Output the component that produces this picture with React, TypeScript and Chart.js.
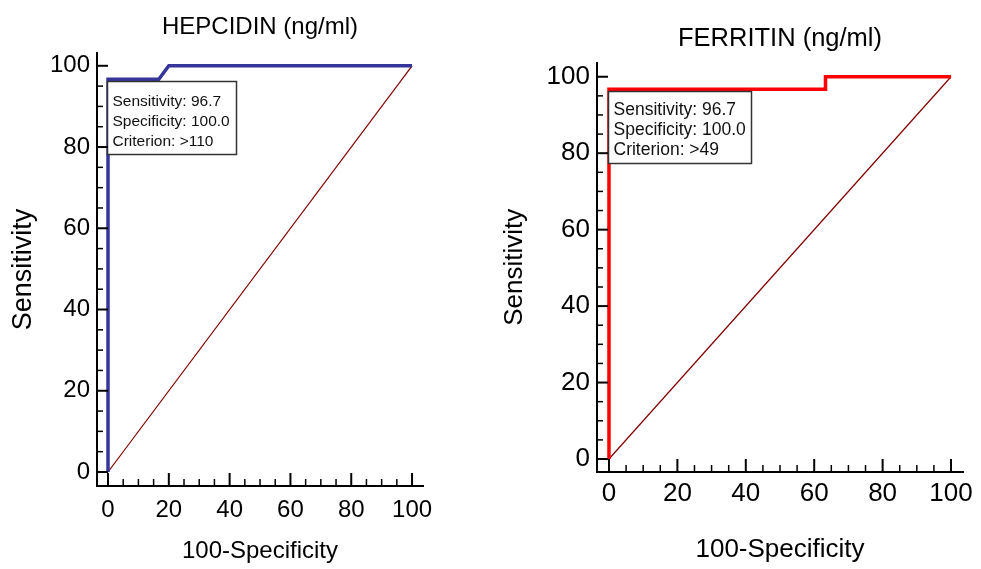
import React, { useEffect, useRef } from 'react';
import { Chart, registerables } from 'chart.js';

Chart.register(...registerables);

// ---------------- data ----------------
const hepcidinFpr = [0, 0, 16.7, 20, 100];
const hepcidinSens = [0, 96.7, 96.7, 100, 100];
const ferritinFpr = [0, 0, 63.3, 63.3, 100];
const ferritinSens = [0, 96.7, 96.7, 100, 100];
const diagonalX = [0, 100];
const diagonalY = [0, 100];

const majorTicks = [0, 20, 40, 60, 80, 100];
const minorTicks = [5, 10, 15, 25, 30, 35, 45, 50, 55, 65, 70, 75, 85, 90, 95];

const hepcidinOpSensitivity = 96.7;
const hepcidinOpSpecificity = 100.0;
const hepcidinCriterion = '>110';
const ferritinOpSensitivity = 96.7;
const ferritinOpSpecificity = 100.0;
const ferritinCriterion = '>49';

const xAxisLabel = '100-Specificity';
const yAxisLabel = 'Sensitivity';

const FONT = "'Liberation Sans', Arial, sans-serif";
const H = 569;

type Layout = {
  width: number; left: number; right: number; top: number; bottom: number;
  xMin: number; xMax: number; yMin: number; yMax: number;
  titleSize: number; titlePadTop: number; titlePadBottom: number;
  tickSize: number; xTickPad: number; yTickPad: number;
  xTitleSize: number; yTitleSize: number; yTitlePad: number; xTitlePad: number;
  boxSize: number; boxFirstBase: number; boxExtraH: number; boxPadR: number;
};

const leftLayout: Layout = {
  width: 490, left: 97, right: 423, top: 53, bottom: 486,
  xMin: -3.62, xMax: 103.6, yMin: -3.45, yMax: 103.2,
  titleSize: 24, titlePadTop: 13, titlePadBottom: 11,
  tickSize: 24, xTickPad: 10, yTickPad: 7,
  xTitleSize: 24, yTitleSize: 27, yTitlePad: 7, xTitlePad: 3,
  boxSize: 15.5, boxFirstBase: 24, boxExtraH: 13, boxPadR: 7,
};

const rightLayout: Layout = {
  width: 491, left: 107, right: 473, top: 63, bottom: 472,
  xMin: -3.5, xMax: 103.5, yMin: -3.4, yMax: 103.7,
  titleSize: 25.5, titlePadTop: 24, titlePadBottom: 8,
  tickSize: 26, xTickPad: 6, yTickPad: 7,
  xTitleSize: 26, yTitleSize: 26, yTitlePad: 9, xTitlePad: 4,
  boxSize: 17.5, boxFirstBase: 23, boxExtraH: 12, boxPadR: 6,
};

const inwardTicks = {
  id: 'inwardTicks',
  afterDraw(chart: any) {
    const { ctx, chartArea, scales } = chart;
    const xs = scales.x;
    const ys = scales.y;
    ctx.save();
    ctx.strokeStyle = '#000';
    const drawX = (v: number, len: number, w: number) => {
      const p = xs.getPixelForValue(v);
      ctx.lineWidth = w;
      ctx.beginPath();
      ctx.moveTo(p, chartArea.bottom);
      ctx.lineTo(p, chartArea.bottom - len);
      ctx.stroke();
    };
    const drawY = (v: number, len: number, w: number) => {
      const p = ys.getPixelForValue(v);
      ctx.lineWidth = w;
      ctx.beginPath();
      ctx.moveTo(chartArea.left, p);
      ctx.lineTo(chartArea.left + len, p);
      ctx.stroke();
    };
    majorTicks.forEach((v) => { drawX(v, 13, 2); drawY(v, 11, 2); });
    minorTicks.forEach((v) => { drawX(v, 7, 1.5); drawY(v, 6, 1.5); });
    ctx.restore();
  },
};

const infoBox = {
  id: 'infoBox',
  afterDatasetsDraw(chart: any, _args: any, opts: any) {
    const { ctx, scales } = chart;
    const px = scales.x.getPixelForValue(opts.x);
    const py = scales.y.getPixelForValue(opts.y);
    ctx.save();
    ctx.font = `${opts.size}px ${FONT}`;
    const lines: string[] = opts.lines;
    const tw = Math.max(...lines.map((l) => ctx.measureText(l).width));
    const w = Math.round(tw + 5 + opts.padR);
    const h = lines.length * 20 + opts.extraH;
    const bx = Math.round(px - 1) + 0.5;
    const by = Math.round(py + 2) + 0.5;
    ctx.fillStyle = '#fff';
    ctx.fillRect(bx, by, w, h);
    ctx.strokeStyle = '#333';
    ctx.lineWidth = 1.5;
    ctx.strokeRect(bx, by, w, h);
    ctx.fillStyle = '#111';
    ctx.textBaseline = 'alphabetic';
    ctx.textAlign = 'left';
    lines.forEach((l, i) => ctx.fillText(l, bx + 5, by + opts.firstBase + i * 20));
    ctx.restore();
  },
};

function makePoints(xs: number[], ys: number[]) {
  return xs.map((x, i) => ({ x, y: ys[i] }));
}

type Props = {
  title: string; fpr: number[]; sens: number[]; color: string; L: Layout;
  opSens: number; opSpec: number; criterion: string; offsetX: number;
};

function RocChart({ title, fpr, sens, color, L, opSens, opSpec, criterion, offsetX }: Props) {
  const ref = useRef<HTMLCanvasElement>(null);
  useEffect(() => {
    if (!ref.current) return;
    const tickFont = { family: FONT, size: L.tickSize, weight: 'normal' as const, lineHeight: 1.2 };
    const chart = new Chart(ref.current, {
      type: 'scatter',
      data: {
        datasets: [
          {
            data: makePoints(fpr, sens),
            showLine: true,
            borderColor: color,
            backgroundColor: color,
            borderWidth: 3.5,
            pointRadius: 0,
            tension: 0,
            borderJoinStyle: 'miter',
          },
          {
            data: makePoints(diagonalX, diagonalY),
            showLine: true,
            borderColor: '#800000',
            backgroundColor: '#800000',
            borderWidth: 1.2,
            pointRadius: 0,
          },
        ],
      },
      options: {
        responsive: false,
        animation: false,
        devicePixelRatio: 1,
        layout: { padding: { left: 0, top: 0, bottom: 0, right: L.width - L.right } },
        plugins: {
          legend: { display: false },
          tooltip: { enabled: false },
          title: {
            display: true,
            text: title,
            fullSize: false,
            color: '#000',
            font: { family: FONT, size: L.titleSize, weight: 'normal', lineHeight: 1.2 },
            padding: { top: L.titlePadTop, bottom: L.titlePadBottom },
          },
          infoBox: {
            x: 100 - opSpec,
            y: opSens,
            size: L.boxSize,
            firstBase: L.boxFirstBase,
            extraH: L.boxExtraH,
            padR: L.boxPadR,
            lines: [
              `Sensitivity: ${opSens.toFixed(1)}`,
              `Specificity: ${opSpec.toFixed(1)}`,
              `Criterion: ${criterion}`,
            ],
          },
        } as any,
        scales: {
          x: {
            type: 'linear',
            min: L.xMin,
            max: L.xMax,
            afterFit: (s: any) => { s.height = H - L.bottom; },
            afterBuildTicks: (s: any) => { s.ticks = majorTicks.map((v) => ({ value: v })); },
            grid: { display: false, drawTicks: false },
            border: { display: true, color: '#000', width: 2 },
            ticks: { color: '#000', font: tickFont, padding: L.xTickPad, maxRotation: 0, autoSkip: false },
            title: {
              display: true, text: xAxisLabel, color: '#000',
              font: { family: FONT, size: L.xTitleSize, weight: 'normal', lineHeight: 1.2 },
              padding: { top: 0, bottom: L.xTitlePad },
            },
          },
          y: {
            type: 'linear',
            min: L.yMin,
            max: L.yMax,
            afterFit: (s: any) => { s.width = L.left; },
            afterBuildTicks: (s: any) => { s.ticks = majorTicks.map((v) => ({ value: v })); },
            grid: { display: false, drawTicks: false },
            border: { display: true, color: '#000', width: 2 },
            ticks: { color: '#000', font: tickFont, padding: L.yTickPad, autoSkip: false },
            title: {
              display: true, text: yAxisLabel, color: '#000',
              font: { family: FONT, size: L.yTitleSize, weight: 'normal', lineHeight: 1.2 },
              padding: { top: L.yTitlePad, bottom: 0 },
            },
          },
        },
      } as any,
      plugins: [inwardTicks, infoBox],
    });
    return () => chart.destroy();
  }, []);
  return (
    <div style={{ position: 'absolute', left: offsetX, top: 0, width: L.width, height: H }}>
      <canvas ref={ref} width={L.width} height={H} style={{ display: 'block' }} />
    </div>
  );
}

export default function App() {
  return (
    <div style={{ position: 'absolute', left: 0, top: 0, width: 981, height: H, background: '#fff' }}>
      <RocChart
        title="HEPCIDIN (ng/ml)"
        fpr={hepcidinFpr}
        sens={hepcidinSens}
        color="#35359a"
        L={leftLayout}
        opSens={hepcidinOpSensitivity}
        opSpec={hepcidinOpSpecificity}
        criterion={hepcidinCriterion}
        offsetX={0}
      />
      <RocChart
        title="FERRITIN (ng/ml)"
        fpr={ferritinFpr}
        sens={ferritinSens}
        color="#ff0000"
        L={rightLayout}
        opSens={ferritinOpSensitivity}
        opSpec={ferritinOpSpecificity}
        criterion={ferritinCriterion}
        offsetX={490}
      />
    </div>
  );
}
